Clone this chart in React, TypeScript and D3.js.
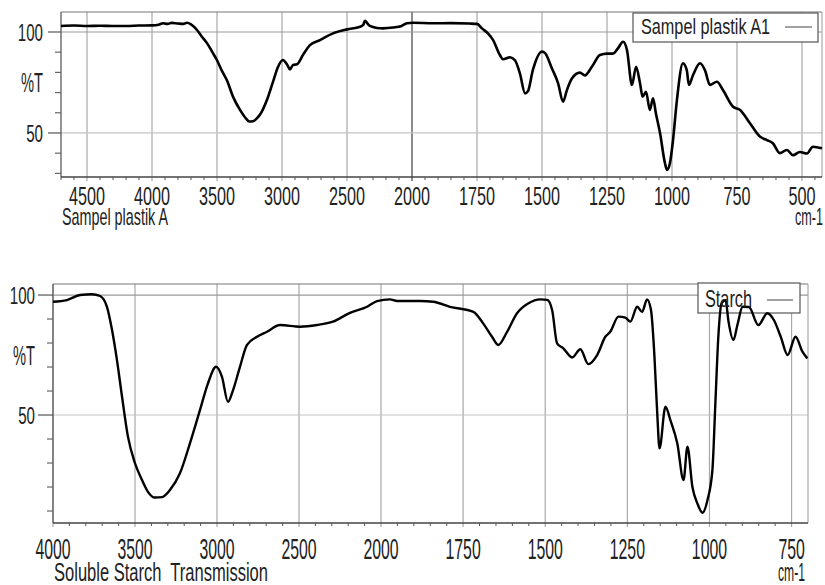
import React from 'react';
import * as d3 from 'd3';

// ---------- DATA ----------
const plasticWavenumbers = [
  4700, 4600, 4500, 4400, 4300, 4200, 4100, 4000, 3950, 3915, 3880, 3850, 3800, 3760, 3731, 3700,
  3654, 3620, 3577, 3540, 3500, 3460, 3423, 3377, 3323, 3285, 3250, 3223, 3190, 3170, 3116, 3070,
  3031, 2993, 2962, 2939, 2915, 2885, 2839, 2785, 2708, 2608, 2500, 2400, 2375, 2362, 2340, 2324,
  2270, 2223, 2146, 2080, 2039, 1996, 1919, 1850, 1780, 1750, 1731, 1708, 1688, 1662, 1650, 1623,
  1604, 1585, 1565, 1554, 1535, 1500, 1488, 1462, 1438, 1419, 1404, 1385, 1354, 1335, 1308, 1277,
  1250, 1227, 1208, 1188, 1173, 1154, 1138, 1123, 1113, 1100, 1085, 1073, 1062, 1046, 1027, 1019,
  1008, 996, 981, 958, 943, 935, 919, 892, 873, 854, 827, 804, 765, 738, 700, 662,
  635, 612, 585, 558, 535, 508, 481, 458, 423,
];
const plasticTransmittance = [
  103, 103.2, 103, 103.1, 103, 103, 103.2, 103.3, 103.6, 104.3, 104.0, 104.5, 104.2, 104.0, 104.6, 103.8,
  101, 98, 94.5, 90.5, 86, 80.5, 76, 68, 61.4, 57.8, 55.7, 55.8, 57.5, 59, 66.3, 75.2,
  82.7, 86.1, 84, 81.5, 83.7, 84, 88.6, 93.5, 96, 99.3, 101.3, 102.6, 103.5, 105.6, 104, 103,
  102, 101.8, 102.2, 103, 104.3, 104.6, 104.3, 104.4, 104.2, 104, 101.8, 99.3, 96, 88.6, 86.5, 87.5,
  86, 79.5, 69.6, 70.7, 81.2, 90.3, 89.5, 82, 74.6, 65.5, 71.3, 77, 79.9, 78.5, 82.8, 88.6,
  89.3, 89.3, 91.9, 95.2, 91, 73.8, 82.8, 74.6, 68, 70.4, 61.4, 67.2, 59.8, 50, 35, 31.7,
  35, 46.5, 66.3, 84.5, 81, 73.8, 78.7, 84.5, 81, 73.8, 75.4, 71.3, 63, 61.4, 54.8, 48.2,
  46.5, 44.9, 40, 41.6, 39, 40.6, 39.8, 43.2, 42.4,
];

const starchWavenumbers = [
  4000, 3915, 3835, 3762, 3713, 3671, 3640, 3610, 3579, 3543, 3500, 3457, 3421, 3378, 3335, 3287,
  3226, 3165, 3104, 3055, 3006, 2970, 2933, 2902, 2860, 2817, 2756, 2695, 2616, 2494, 2390, 2293,
  2189, 2085, 2024, 1973, 1951, 1881, 1841, 1790, 1719, 1689, 1662, 1643, 1616, 1586, 1552, 1515,
  1494, 1479, 1464, 1445, 1418, 1393, 1369, 1342, 1317, 1302, 1277, 1256, 1241, 1220, 1205, 1190,
  1178, 1168, 1159, 1152, 1134, 1119, 1098, 1079, 1067, 1052, 1037, 1021, 1006, 991, 982, 973,
  963, 951, 942, 927, 915, 899, 880, 851, 824, 804, 783, 762, 738, 717, 702,
];
const starchTransmittance = [
  97.2, 97.9, 100, 100.3, 99.6, 95.1, 85.4, 72.9, 57.6, 41, 29.9, 22.9, 18, 15.6, 15.8, 18.75,
  25.7, 38.2, 52, 63.2, 70.1, 66, 55.5, 60.4, 70.1, 79.2, 82.6, 84.7, 87.5, 86.8, 87.5, 88.9,
  92.6, 95.1, 97.5, 98.2, 97.5, 97.5, 97.2, 95.1, 93, 88.2, 82.6, 79.2, 84.7, 92.4, 96.5, 98.2,
  98, 93.75, 79.9, 77.8, 74, 77.4, 71.2, 75, 82.6, 84.7, 91, 90.6, 88.9, 95.1, 93, 98.2,
  93.75, 75.7, 50.7, 36.1, 53.5, 47.9, 38.2, 22.9, 36.8, 20.1, 13.2, 9.3, 14.6, 27.1, 54.9, 82.6,
  96.6, 97.9, 88.9, 81.25, 87.5, 95.1, 95, 87.5, 92.4, 89.6, 82.6, 75, 82.6, 76.4, 73.6,
];

const plasticXTicks = [4500, 4000, 3500, 3000, 2500, 2000, 1750, 1500, 1250, 1000, 750, 500];
const starchXTicks = [4000, 3500, 3000, 2500, 2000, 1750, 1500, 1250, 1000, 750];
const yMajorTicks = [100, 50];
const yLabel = '%T';
const xUnit = 'cm-1';
const plasticTitle = 'Sampel plastik A';
const plasticLegend = 'Sampel plastik A1';
const starchTitle = 'Soluble Starch  Transmission';
const starchLegend = 'Starch';

// ---------- LAYOUT ----------
const FONT = "'Liberation Sans', Arial, sans-serif";

type Cfg = {
  left: number; right: number; top: number; bottom: number;
  xDomain: number[]; xRange: number[]; yDomain: [number, number];
  xw: number[]; yt: number[]; xTicks: number[]; darkGrid: number | null;
  tickFont: number; tickBase: number; digitW: number;
  yLabX: number; yMajorX0: number; yMinorX0: number; yLabFont: number; yPctFont: number;
  title: string; titleBase: number; titleFont: number; titleLen: number;
  unitBase: number; unitEnd: number; unitLen: number;
  legend: string; legBox: number[]; legTextX: number; legBase: number; legFont: number; legLen: number;
  legLine: number[]; strokeW: number; minorY: number[];
};

function Label(p: { x: number; y: number; size: number; len?: number; anchor?: string; children: string; fill?: string }) {
  return (
    <text
      x={p.x}
      y={p.y}
      fontSize={p.size}
      fontFamily={FONT}
      textAnchor={p.anchor || 'start'}
      textLength={p.len}
      lengthAdjust="spacingAndGlyphs"
      fill={p.fill || '#222'}
      style={{ whiteSpace: 'pre' }}
    >
      {p.children}
    </text>
  );
}

function Spectrum({ c }: { c: Cfg }) {
  const x = d3.scaleLinear().domain(c.xDomain).range(c.xRange);
  const y = d3.scaleLinear().domain(c.yDomain).range([c.bottom, c.top]);
  const pts: [number, number][] = c.xw.map((w, i) => [w, c.yt[i]]);
  const line = d3
    .line<[number, number]>()
    .x((d) => x(d[0]))
    .y((d) => y(d[1]))
    .curve(d3.curveMonotoneX);
  const hi = c.xDomain[0];
  const lo = c.xDomain[c.xDomain.length - 1];
  const minor = [
    ...d3.range(Math.floor(hi / 100) * 100, 2000, -100),
    ...d3.range(2000, lo, -50),
  ].filter((v) => v <= hi && v >= lo && !c.xTicks.includes(v));

  return (
    <g>
      {/* vertical gridlines */}
      {c.xTicks.map((t) => (
        <line
          key={'g' + t}
          x1={x(t)}
          x2={x(t)}
          y1={c.top}
          y2={c.bottom + 4}
          stroke={t === c.darkGrid ? '#666' : '#a8a8a8'}
          strokeWidth={t === c.darkGrid ? 1.5 : 1.2}
        />
      ))}
      {/* horizontal gridlines */}
      {yMajorTicks.map((t, i) => (
        <line key={'h' + t} x1={c.left} x2={c.right} y1={y(t)} y2={y(t)} stroke={i === 0 ? '#9a9a9a' : '#c4c4c4'} strokeWidth={1.2} />
      ))}
      {/* frame */}
      <line x1={c.left} x2={c.right} y1={c.top} y2={c.top} stroke="#777" strokeWidth={1.2} />
      <line x1={c.right} x2={c.right} y1={c.top} y2={c.bottom} stroke="#999" strokeWidth={1} />
      <line x1={c.left} x2={c.left} y1={c.top} y2={c.bottom} stroke="#666" strokeWidth={1.4} />
      <line x1={c.left} x2={c.right} y1={c.bottom} y2={c.bottom} stroke="#444" strokeWidth={1.4} />
      {/* minor x ticks */}
      {minor.map((t) => (
        <line key={'m' + t} x1={x(t)} x2={x(t)} y1={c.bottom} y2={c.bottom + 3} stroke="#555" strokeWidth={1} />
      ))}
      {/* y ticks */}
      {yMajorTicks.map((t) => (
        <line key={'ym' + t} x1={c.yMajorX0} x2={c.left} y1={y(t)} y2={y(t)} stroke="#555" strokeWidth={1.2} />
      ))}
      {c.minorY.map((t) => (
        <line key={'yn' + t} x1={c.yMinorX0} x2={c.left} y1={y(t)} y2={y(t)} stroke="#666" strokeWidth={1.2} />
      ))}
      {/* y labels */}
      {yMajorTicks.map((t) => (
        <Label key={'yl' + t} x={c.yLabX} y={y(t) + c.yLabFont * 0.36} size={c.yLabFont} anchor="end" len={String(t).length * 8.4}>
          {String(t)}
        </Label>
      ))}
      <Label x={c.yLabX} y={y(75) + c.yPctFont * 0.36} size={c.yPctFont} anchor="end" len={22}>
        {yLabel}
      </Label>
      {/* x labels */}
      {c.xTicks.map((t) => (
        <Label key={'xl' + t} x={x(t)} y={c.tickBase} size={c.tickFont} anchor="middle" len={String(t).length * c.digitW}>
          {String(t)}
        </Label>
      ))}
      <Label x={c.left + 1} y={c.titleBase} size={c.titleFont} len={c.titleLen}>
        {c.title}
      </Label>
      <Label x={c.unitEnd} y={c.unitBase} size={c.titleFont} anchor="end" len={c.unitLen}>
        {xUnit}
      </Label>
      {/* legend box */}
      <rect
        x={c.legBox[0]}
        y={c.legBox[1]}
        width={c.legBox[2] - c.legBox[0]}
        height={c.legBox[3] - c.legBox[1]}
        fill="#fff"
        stroke="#555"
        strokeWidth={1.2}
      />
      {/* spectrum */}
      <path d={line(pts) || ''} fill="none" stroke="#000" strokeWidth={c.strokeW} strokeLinejoin="round" />
      <Label x={c.legTextX} y={c.legBase} size={c.legFont} len={c.legLen}>
        {c.legend}
      </Label>
      <line x1={c.legLine[0]} x2={c.legLine[1]} y1={c.legLine[2]} y2={c.legLine[2]} stroke="#444" strokeWidth={1} />
    </g>
  );
}

const topCfg: Cfg = {
  left: 61, right: 822, top: 12, bottom: 177,
  xDomain: [4700, 2000, 423], xRange: [61, 412, 822], yDomain: [28.2, 109.9],
  xw: plasticWavenumbers, yt: plasticTransmittance, xTicks: plasticXTicks, darkGrid: 2000,
  tickFont: 25, tickBase: 205, digitW: 9,
  yLabX: 43, yMajorX0: 48, yMinorX0: 55, yLabFont: 24, yPctFont: 27,
  title: plasticTitle, titleBase: 225, titleFont: 24, titleLen: 106,
  unitBase: 225, unitEnd: 823, unitLen: 28,
  legend: plasticLegend, legBox: [633, 13, 818, 42], legTextX: 641, legBase: 34, legFont: 22, legLen: 129,
  legLine: [785, 812, 27], strokeW: 2.6, minorY: [90, 80, 70, 60, 40, 30],
};

const bottomCfg: Cfg = {
  left: 53, right: 808, top: 284, bottom: 523,
  xDomain: [4000, 2000, 700], xRange: [53, 381, 808], yDomain: [5, 104.6],
  xw: starchWavenumbers, yt: starchTransmittance, xTicks: starchXTicks, darkGrid: null,
  tickFont: 29, tickBase: 559, digitW: 8.8,
  yLabX: 35, yMajorX0: 38, yMinorX0: 47, yLabFont: 24, yPctFont: 27,
  title: starchTitle, titleBase: 581, titleFont: 26, titleLen: 214,
  unitBase: 581, unitEnd: 805, unitLen: 27,
  legend: starchLegend, legBox: [698, 283, 800, 313], legTextX: 705, legBase: 307, legFont: 24, legLen: 47,
  legLine: [767, 793, 300], strokeW: 2.4, minorY: [90, 80, 70, 60, 40, 30, 20, 10],
};

export default function App() {
  return (
    <svg
      width={825}
      height={585}
      style={{ position: 'absolute', left: 0, top: 0, background: '#fff' }}
    >
      <rect x={0} y={0} width={825} height={585} fill="#fff" />
      <Spectrum c={topCfg} />
      <Spectrum c={bottomCfg} />
    </svg>
  );
}
